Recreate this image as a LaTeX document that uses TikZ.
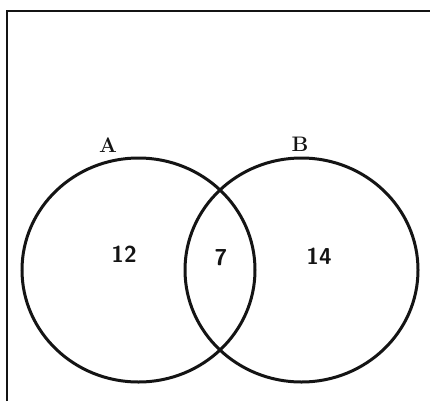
\documentclass[tikz,border=0pt]{standalone}
\definecolor{ink}{RGB}{20,20,20}
\begin{document}
\begin{tikzpicture}[x=1pt,y=-1pt,
  setcircle/.style={draw=ink,line width=3pt},
  framestyle/.style={draw=ink,line width=2.6pt},
  setlabel/.style={font=\fontsize{21}{21}\selectfont\bfseries,text=ink,inner sep=0pt},
  countlabel/.style={font=\fontsize{23}{23}\selectfont\sffamily\bfseries,text=ink,inner sep=0pt}]
\useasboundingbox (0,0) rectangle (430,401);
\fill[white] (0,0) rectangle (430,401);
\draw[framestyle] (7,401) -- (7,11) -- (430,11);
\draw[setcircle] (138.5,270) ellipse (116.5 and 112);
\draw[setcircle] (301.5,270) ellipse (116.5 and 112);
\node[setlabel] (A) at (108,145) {A};
\node[setlabel] (B) at (300,144) {B};
\node[countlabel] (n12) at (124,254) {12};
\node[countlabel] (n7) at (221,258) {7};
\node[countlabel] (n14) at (319,256) {14};
\end{tikzpicture}
\end{document}
